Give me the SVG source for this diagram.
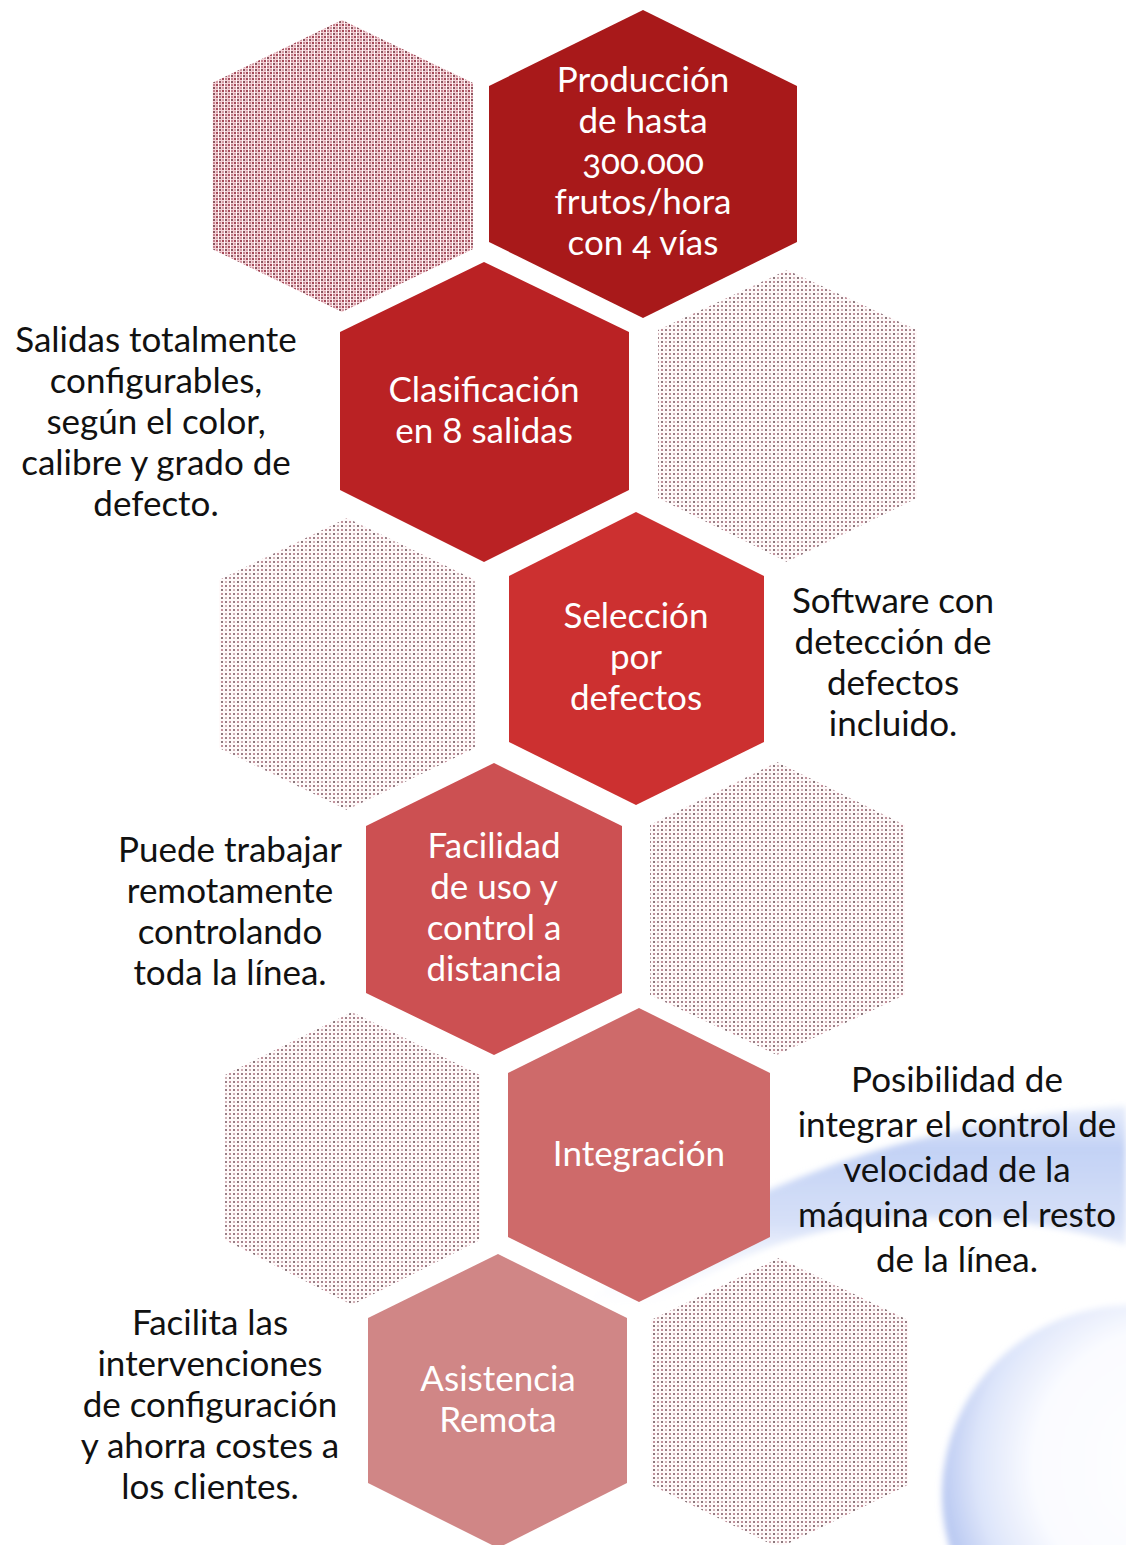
<svg xmlns="http://www.w3.org/2000/svg" width="1126" height="1545" viewBox="0 0 1126 1545">
  <defs>
    <style>
      .lbl { font-family: Lato, "Open Sans", "Liberation Sans", sans-serif; font-size: 35px; text-anchor: middle; }
      .w { fill: #ffffff; }
      .k { fill: #111111; }
      .onum { font-feature-settings: "onum" 1; font-variant-numeric: oldstyle-nums; }
      .dots { fill: url(#dotPat); }
      .stripes { fill: url(#stripePat); }
    </style>
    <pattern id="dotPat" width="8" height="8" patternUnits="userSpaceOnUse">
      <rect width="8" height="8" fill="#fffafa"/>
      <rect x="1" y="1" width="2" height="2" fill="#9a8088"/>
      <rect x="5" y="1" width="2" height="2" fill="#c1929c"/>
      <rect x="1" y="5" width="2" height="2" fill="#cfb0b6"/>
      <rect x="5" y="5" width="2" height="2" fill="#8c787d"/>
    </pattern>
    <pattern id="stripePat" width="6" height="6" patternUnits="userSpaceOnUse">
      <rect width="6" height="6" fill="#f4d3d8"/>
      <rect x="0" y="0" width="2" height="2" fill="#a44a59"/>
      <rect x="3" y="3" width="2" height="2" fill="#8a555e"/>
      <rect x="0" y="3" width="2" height="2" fill="#d59aa4"/>
      <rect x="3" y="0" width="2" height="2" fill="#c3808c"/>
      <rect x="2" y="0" width="1" height="6" fill="#fff8f8"/>
    </pattern>
    <linearGradient id="swooshGrad" x1="0" y1="0" x2="0" y2="1">
      <stop offset="0" stop-color="#c7d5f6" stop-opacity="0.4"/>
      <stop offset="0.2" stop-color="#c3d2f5"/>
      <stop offset="0.55" stop-color="#d6e0f8"/>
      <stop offset="1" stop-color="#ffffff" stop-opacity="0"/>
    </linearGradient>
    <radialGradient id="sphereGrad" cx="0.6" cy="0.42" r="0.6">
      <stop offset="0" stop-color="#ffffff"/>
      <stop offset="0.6" stop-color="#fafbff"/>
      <stop offset="0.85" stop-color="#dde5fa"/>
      <stop offset="1" stop-color="#bccbf2"/>
    </radialGradient>
    <filter id="soft" x="-20%" y="-20%" width="140%" height="140%">
      <feGaussianBlur stdDeviation="3"/>
    </filter>
  </defs>

  <rect width="1126" height="1545" fill="#ffffff"/>

  <g id="background">
    <path d="M 590 1300 C 690 1212 880 1122 1126 1106 L 1126 1245 C 960 1195 780 1210 640 1318 Z" fill="url(#swooshGrad)" filter="url(#soft)"/>
    <circle cx="1132" cy="1495" r="190" fill="url(#sphereGrad)" filter="url(#soft)"/>
  </g>

  <g id="decor">
    <polygon id="pattern-hex-1" class="stripes" points="342,20 473,83 473,249 342,312 212,249 212,83"/>
    <polygon id="pattern-hex-2" class="dots" points="787,270 917,330 917,498 787,562 658,498 658,330"/>
    <polygon id="pattern-hex-3" class="dots" points="347,518 475,580 475,748 347,810 219,748 219,580"/>
    <polygon id="pattern-hex-4" class="dots" points="777,762 905,825 905,995 777,1055 650,995 650,825"/>
    <polygon id="pattern-hex-5" class="dots" points="352,1012 480,1075 480,1240 352,1305 225,1240 225,1075"/>
    <polygon id="pattern-hex-6" class="dots" points="779,1258 908,1320 908,1485 779,1548 651,1485 651,1320"/>
  </g>

  <g id="connectors"></g>

  <g id="node-produccion">
    <polygon points="643,10 797,86 797,242 643,318 489,242 489,86" fill="#a8191a"/>
    <text class="lbl w" x="643" y="92">Producción</text>
    <text class="lbl w" x="643" y="133">de hasta</text>
    <text class="lbl w onum" x="643" y="174">300.000</text>
    <text class="lbl w" x="643" y="214">frutos/hora</text>
    <text class="lbl w onum" x="643" y="255">con 4 vías</text>
  </g>

  <g id="node-clasificacion">
    <polygon points="484,262 629,332 629,490 484,562 340,490 340,332" fill="#ba2224"/>
    <text class="lbl w" x="484" y="402">Clasificación</text>
    <text class="lbl w" x="484" y="443">en 8 salidas</text>
  </g>

  <g id="node-seleccion">
    <polygon points="636,512 764,576 764,742 636,805 509,742 509,576" fill="#cc3030"/>
    <text class="lbl w" x="636" y="628">Selección</text>
    <text class="lbl w" x="636" y="669">por</text>
    <text class="lbl w" x="636" y="710">defectos</text>
  </g>

  <g id="node-facilidad">
    <polygon points="494,763 622,826 622,993 494,1055 366,993 366,826" fill="#cc5052"/>
    <text class="lbl w" x="494" y="858">Facilidad</text>
    <text class="lbl w" x="494" y="899">de uso y</text>
    <text class="lbl w" x="494" y="940">control a</text>
    <text class="lbl w" x="494" y="981">distancia</text>
  </g>

  <g id="node-integracion">
    <polygon points="639,1008 770,1073 770,1237 639,1302 508,1237 508,1073" fill="#ce6a6a"/>
    <text class="lbl w" x="639" y="1166">Integración</text>
  </g>

  <g id="node-asistencia">
    <polygon points="498,1254 627,1318 627,1483 498,1548 368,1483 368,1318" fill="#d08686"/>
    <text class="lbl w" x="498" y="1391">Asistencia</text>
    <text class="lbl w" x="498" y="1432">Remota</text>
  </g>

  <g id="note-salidas">
    <text class="lbl k" x="156" y="352">Salidas totalmente</text>
    <text class="lbl k" x="156" y="393">configurables,</text>
    <text class="lbl k" x="156" y="434">según el color,</text>
    <text class="lbl k" x="156" y="475">calibre y grado de</text>
    <text class="lbl k" x="156" y="516">defecto.</text>
  </g>

  <g id="note-software">
    <text class="lbl k" x="893" y="613">Software con</text>
    <text class="lbl k" x="893" y="654">detección de</text>
    <text class="lbl k" x="893" y="695">defectos</text>
    <text class="lbl k" x="893" y="736">incluido.</text>
  </g>

  <g id="note-puede">
    <text class="lbl k" x="230" y="862">Puede trabajar</text>
    <text class="lbl k" x="230" y="903">remotamente</text>
    <text class="lbl k" x="230" y="944">controlando</text>
    <text class="lbl k" x="230" y="985">toda la línea.</text>
  </g>

  <g id="note-posibilidad">
    <text class="lbl k" x="957" y="1092">Posibilidad de</text>
    <text class="lbl k" x="957" y="1137">integrar el control de</text>
    <text class="lbl k" x="957" y="1182">velocidad de la</text>
    <text class="lbl k" x="957" y="1227">máquina con el resto</text>
    <text class="lbl k" x="957" y="1272">de la línea.</text>
  </g>

  <g id="note-facilita">
    <text class="lbl k" x="210" y="1335">Facilita las</text>
    <text class="lbl k" x="210" y="1376">intervenciones</text>
    <text class="lbl k" x="210" y="1417">de configuración</text>
    <text class="lbl k" x="210" y="1458">y ahorra costes a</text>
    <text class="lbl k" x="210" y="1499">los clientes.</text>
  </g>
</svg>
